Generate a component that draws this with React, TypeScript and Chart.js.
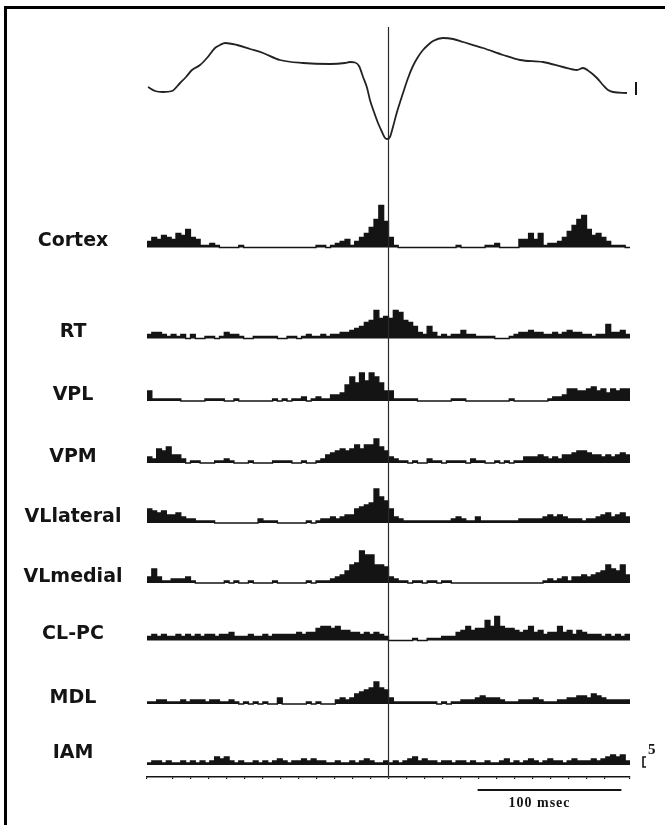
import React, { useEffect, useRef } from "react";
import { Chart, registerables } from "chart.js";

Chart.register(...registerables);

// ---------- time axis (ms, relative to EEG spike trough) ----------
const T_MIN = -168;
const T_MAX = 168;
const BIN_COUNT = 100;
const SCALE_BAR_START = 62;
const SCALE_BAR_MS = 100;
const SCALE_BAR_LABEL = "100 msec";
const COUNT_SCALE_LABEL = "5";
const COUNT_SCALE_VALUE = 5;
const EEG_BAR_UV = 52;

// ---------- row names ----------
const rowNames = ["Cortex", "RT", "VPL", "VPM", "VLlateral", "VLmedial", "CL-PC", "MDL", "IAM"];

// ---------- peri-event histograms (spike counts per bin, 100 bins) ----------
const cortex = [
  3, 5, 4, 6, 5, 4, 7, 6, 9, 5,
  4, 1, 1, 2, 1, 0, 0, 0, 0, 1,
  0, 0, 0, 0, 0, 0, 0, 0, 0, 0,
  0, 0, 0, 0, 0, 1, 1, 0, 1, 2,
  3, 4, 1, 3, 5, 7, 10, 14, 21, 13,
  5, 1, 0, 0, 0, 0, 0, 0, 0, 0,
  0, 0, 0, 0, 1, 0, 0, 0, 0, 0,
  1, 1, 2, 0, 0, 0, 0, 4, 4, 7,
  4, 7, 1, 2, 2, 3, 5, 8, 11, 14,
  16, 9, 6, 7, 5, 3, 1, 1, 1, 0,
];
const rt = [
  2, 3, 3, 2, 1, 2, 1, 2, 0, 2,
  0, 0, 1, 1, 0, 1, 3, 2, 2, 1,
  0, 0, 1, 1, 1, 1, 1, 0, 0, 1,
  1, 0, 1, 2, 1, 1, 2, 1, 2, 2,
  3, 3, 4, 5, 6, 8, 9, 14, 10, 11,
  10, 14, 13, 9, 8, 6, 3, 2, 6, 3,
  1, 2, 1, 2, 2, 4, 2, 2, 1, 1,
  1, 1, 0, 0, 0, 1, 2, 3, 3, 4,
  3, 3, 2, 2, 3, 2, 3, 4, 3, 3,
  2, 2, 1, 2, 2, 7, 3, 3, 4, 2,
];
const vpl = [
  5, 1, 1, 1, 1, 1, 1, 0, 0, 0,
  0, 0, 1, 1, 1, 1, 0, 0, 1, 0,
  0, 0, 0, 0, 0, 0, 1, 0, 1, 0,
  1, 1, 2, 0, 1, 2, 1, 1, 3, 3,
  4, 8, 12, 9, 14, 10, 14, 12, 9, 5,
  5, 1, 1, 1, 1, 1, 0, 0, 0, 0,
  0, 0, 0, 1, 1, 1, 0, 0, 0, 0,
  0, 0, 0, 0, 0, 1, 0, 0, 0, 0,
  0, 0, 0, 1, 2, 2, 3, 6, 6, 5,
  5, 6, 7, 5, 6, 4, 6, 5, 6, 6,
];
const vpm = [
  3, 2, 7, 6, 8, 4, 4, 2, 0, 1,
  1, 0, 0, 0, 1, 1, 2, 1, 0, 0,
  0, 1, 0, 0, 0, 0, 1, 1, 1, 1,
  0, 0, 1, 0, 0, 1, 2, 4, 5, 6,
  7, 6, 7, 9, 7, 9, 9, 12, 8, 6,
  3, 2, 1, 1, 0, 1, 0, 0, 2, 1,
  1, 0, 1, 1, 1, 1, 0, 2, 1, 1,
  0, 0, 1, 0, 1, 0, 1, 1, 3, 3,
  3, 4, 3, 2, 3, 2, 4, 4, 5, 6,
  6, 5, 4, 4, 3, 4, 3, 4, 5, 4,
];
const vlLateral = [
  7, 6, 5, 6, 4, 4, 5, 3, 2, 2,
  1, 1, 1, 1, 0, 0, 0, 0, 0, 0,
  0, 0, 0, 2, 1, 1, 1, 0, 0, 0,
  0, 0, 0, 1, 0, 1, 2, 2, 3, 2,
  3, 4, 4, 7, 8, 9, 10, 17, 13, 11,
  7, 3, 2, 1, 1, 1, 1, 1, 1, 1,
  1, 1, 1, 2, 3, 2, 1, 1, 3, 1,
  1, 1, 1, 1, 1, 1, 1, 2, 2, 2,
  2, 2, 3, 4, 3, 4, 3, 2, 2, 2,
  1, 2, 2, 3, 4, 5, 3, 4, 5, 3,
];
const vlMedial = [
  3, 7, 3, 1, 1, 2, 2, 2, 3, 1,
  0, 0, 0, 0, 0, 0, 1, 0, 1, 0,
  0, 1, 0, 0, 0, 0, 1, 0, 0, 0,
  0, 0, 0, 1, 0, 1, 1, 1, 2, 3,
  4, 6, 9, 10, 16, 14, 14, 9, 9, 8,
  3, 2, 1, 1, 0, 1, 1, 0, 1, 1,
  0, 1, 1, 0, 0, 0, 0, 0, 0, 0,
  0, 0, 0, 0, 0, 0, 0, 0, 0, 0,
  0, 0, 1, 2, 1, 2, 3, 1, 3, 3,
  4, 3, 4, 5, 6, 9, 7, 6, 9, 4,
];
const clPc = [
  2, 3, 2, 3, 2, 2, 3, 2, 3, 2,
  3, 2, 3, 3, 2, 3, 3, 4, 2, 2,
  2, 3, 2, 2, 3, 2, 3, 3, 3, 3,
  3, 4, 3, 4, 4, 6, 7, 7, 6, 7,
  5, 5, 4, 4, 3, 4, 3, 4, 3, 2,
  0, 0, 0, 0, 0, 1, 0, 0, 1, 1,
  1, 2, 2, 2, 4, 5, 7, 5, 6, 6,
  10, 7, 12, 7, 6, 6, 5, 4, 5, 7,
  4, 5, 3, 4, 4, 7, 4, 5, 3, 5,
  4, 3, 3, 3, 2, 3, 2, 3, 2, 3,
];
const mdl = [
  1, 1, 2, 2, 1, 1, 1, 2, 1, 2,
  2, 2, 1, 2, 2, 1, 1, 2, 1, 0,
  1, 0, 1, 0, 1, 0, 0, 3, 0, 0,
  0, 0, 0, 1, 0, 1, 0, 0, 0, 2,
  3, 2, 3, 5, 6, 7, 8, 11, 8, 7,
  3, 1, 1, 1, 1, 1, 1, 1, 1, 1,
  0, 1, 0, 1, 1, 2, 2, 2, 3, 4,
  3, 3, 3, 2, 1, 1, 1, 2, 2, 2,
  3, 2, 1, 1, 1, 2, 2, 3, 3, 4,
  4, 3, 5, 4, 3, 2, 2, 2, 2, 2,
];
const iam = [
  1, 2, 2, 1, 2, 1, 1, 2, 1, 2,
  1, 2, 1, 2, 4, 3, 4, 2, 1, 2,
  1, 1, 2, 1, 2, 1, 2, 3, 2, 1,
  2, 2, 3, 2, 3, 2, 2, 1, 1, 2,
  1, 1, 2, 1, 2, 3, 2, 1, 1, 2,
  1, 2, 1, 2, 3, 4, 2, 3, 2, 2,
  1, 2, 2, 1, 2, 2, 1, 2, 1, 1,
  2, 1, 1, 2, 3, 1, 2, 1, 2, 3,
  2, 1, 2, 3, 2, 2, 1, 2, 3, 2,
  2, 2, 3, 2, 3, 4, 5, 4, 5, 2,
];
const histograms = [cortex, rt, vpl, vpm, vlLateral, vlMedial, clPc, mdl, iam];

// ---------- cortical EEG (ms, µV; negative = downward) ----------
const eegTime = [
  -167.3, -162.4, -156.9, -150.6, -145.0, -140.9, -136.7, -131.1, -126.3, -120.7,
  -117.2, -113.7, -105.4, -96.3, -87.3, -75.5, -59.5, -40.7, -30.3, -26.8,
  -23.3, -20.5, -17.7, -14.9, -12.9, -10.1, -7.3, -4.5, -2.4, -1.0,
  1.0, 3.1, 5.9, 10.1, 13.6, 17.0, 20.5, 24.0, 27.5, 31.0,
  37.9, 44.9, 51.8, 65.7, 79.7, 91.5, 107.5, 121.4, 131.1, 135.3,
  140.2, 145.0, 149.2, 152.7, 156.2, 165.9,
];
const eegValue = [
  4, -12, -16, -12, 20, 44, 72, 92, 120, 160,
  172, 180, 172, 156, 140, 112, 100, 96, 100, 104,
  102, 88, 44, 0, -48, -96, -140, -176, -200, -204,
  -196, -156, -96, -20, 40, 88, 124, 152, 172, 188,
  200, 196, 184, 160, 132, 112, 104, 84, 72, 80,
  64, 40, 12, -8, -16, -20,
];

// ---------- layout (pixels) ----------
const W = 665;
const H = 825;
const AREA_LEFT = 147;
const AREA_RIGHT = 630;
const AREA_TOP = 27;
const AREA_BOTTOM = 777;
const ROW_BASELINES = [247.5, 338.5, 401, 463, 523, 583, 640.5, 704, 765];
const EEG_BASELINE = 88;
const PX_PER_COUNT = 2;
const PX_PER_UV = 0.25;
const LABEL_X = 73;
const INK = "#141414";

function rangeFor(baselinePx: number, pxPerUnit: number) {
  return {
    min: -(AREA_BOTTOM - baselinePx) / pxPerUnit,
    max: (baselinePx - AREA_TOP) / pxPerUnit,
  };
}

export default function App() {
  const canvasRef = useRef<HTMLCanvasElement | null>(null);

  useEffect(() => {
    const canvas = canvasRef.current;
    if (!canvas) return;
    const binMs = (T_MAX - T_MIN) / BIN_COUNT;

    const histDatasets = histograms.map((vals, i) => {
      const pts = vals.map((v, j) => ({ x: T_MIN + j * binMs, y: v }));
      pts.push({ x: T_MAX, y: vals[vals.length - 1] });
      return {
        type: "line" as const,
        label: rowNames[i],
        data: pts,
        xAxisID: "x",
        yAxisID: "yRow" + i,
        stepped: true,
        fill: "origin",
        borderColor: INK,
        backgroundColor: INK,
        borderWidth: 1.3,
        pointRadius: 0,
      };
    });

    const eegDataset = {
      type: "line" as const,
      label: "EEG",
      data: eegTime.map((t, i) => ({ x: t, y: eegValue[i] })),
      xAxisID: "x",
      yAxisID: "yEeg",
      borderColor: "#222",
      borderWidth: 1.8,
      pointRadius: 0,
      fill: false,
      cubicInterpolationMode: "monotone" as const,
    };

    const scales: any = {
      x: {
        type: "linear",
        axis: "x",
        min: T_MIN,
        max: T_MAX,
        position: "bottom",
        grid: { drawOnChartArea: false, drawTicks: true, tickLength: 2, color: INK, lineWidth: 1.2 },
        border: { display: true, color: INK, width: 1.6 },
        ticks: { display: false, stepSize: 12.5 },
      },
      yEeg: { type: "linear", axis: "y", position: "left", display: false, ...rangeFor(EEG_BASELINE, PX_PER_UV) },
    };
    ROW_BASELINES.forEach((b, i) => {
      scales["yRow" + i] = {
        type: "linear",
        axis: "y",
        position: "left",
        display: false,
        ...rangeFor(b, PX_PER_COUNT),
      };
    });

    const overlay = {
      id: "overlay",
      afterDatasetsDraw(chart: any) {
        const { ctx, chartArea } = chart;
        const xs = chart.scales.x;
        ctx.save();
        // trigger line at t = 0
        const x0 = xs.getPixelForValue(0);
        ctx.strokeStyle = "#2a2a2a";
        ctx.lineWidth = 1.2;
        ctx.beginPath();
        ctx.moveTo(x0, chartArea.top);
        ctx.lineTo(x0, chartArea.bottom);
        ctx.stroke();

        // row labels
        ctx.fillStyle = INK;
        ctx.font = 'bold 19px "DejaVu Sans", "Liberation Sans", Arial, sans-serif';
        ctx.textAlign = "center";
        ctx.textBaseline = "middle";
        rowNames.forEach((name, i) => {
          const yb = chart.scales["yRow" + i].getPixelForValue(0);
          const off = i === rowNames.length - 1 ? 12 : 6;
          ctx.fillText(name, LABEL_X, yb - off);
        });

        // EEG calibration bar
        const ye = chart.scales.yEeg;
        const xc = chartArea.right + 6;
        ctx.strokeStyle = INK;
        ctx.lineWidth = 2;
        ctx.beginPath();
        ctx.moveTo(xc, ye.getPixelForValue(EEG_BAR_UV / 2 - 2));
        ctx.lineTo(xc, ye.getPixelForValue(-EEG_BAR_UV / 2 - 2));
        ctx.stroke();

        // count calibration bracket on last row
        const yl = chart.scales["yRow" + (rowNames.length - 1)];
        const yb0 = yl.getPixelForValue(-1);
        const yb5 = yl.getPixelForValue(COUNT_SCALE_VALUE - 1);
        const bx = chartArea.right + 13;
        ctx.lineWidth = 1.6;
        ctx.beginPath();
        ctx.moveTo(bx + 3, yb5);
        ctx.lineTo(bx, yb5);
        ctx.lineTo(bx, yb0);
        ctx.lineTo(bx + 3, yb0);
        ctx.stroke();
        ctx.font = 'bold 15px "Liberation Serif", "DejaVu Serif", serif';
        ctx.textAlign = "left";
        ctx.textBaseline = "middle";
        ctx.fillText(COUNT_SCALE_LABEL, bx + 5, yb5 - 7);

        // time scale bar
        const sx0 = xs.getPixelForValue(SCALE_BAR_START);
        const sx1 = xs.getPixelForValue(SCALE_BAR_START + SCALE_BAR_MS);
        const sy = chartArea.bottom + 13;
        ctx.lineWidth = 2;
        ctx.beginPath();
        ctx.moveTo(sx0, sy);
        ctx.lineTo(sx1, sy);
        ctx.stroke();
        ctx.font = 'bold 14px "Liberation Serif", "DejaVu Serif", serif';
        ctx.textAlign = "center";
        try { ctx.letterSpacing = "1px"; } catch (e) { /* ignore */ }
        ctx.fillText(SCALE_BAR_LABEL, (sx0 + sx1) / 2 - 10, sy + 13);
        ctx.restore();
      },
    };

    const chart = new Chart(canvas, {
      type: "line",
      data: { datasets: [eegDataset, ...histDatasets] as any },
      options: {
        responsive: false,
        maintainAspectRatio: false,
        animation: false,
        events: [],
        layout: {
          padding: {
            left: AREA_LEFT,
            right: W - AREA_RIGHT,
            top: AREA_TOP,
            bottom: H - AREA_BOTTOM - 2,
          },
        },
        plugins: { legend: { display: false }, tooltip: { enabled: false } },
        scales,
      },
      plugins: [overlay],
    });
    return () => chart.destroy();
  }, []);

  return (
    <div style={{ position: "absolute", left: 0, top: 0, width: W, height: H, background: "#fff" }}>
      <canvas ref={canvasRef} width={W} height={H} style={{ width: W, height: H, display: "block" }} />
      <div
        style={{
          position: "absolute",
          left: 4,
          top: 6,
          width: W - 4,
          height: H - 6,
          borderTop: "3px solid #000",
          borderLeft: "3px solid #000",
          boxSizing: "border-box",
          pointerEvents: "none",
        }}
      />
    </div>
  );
}
